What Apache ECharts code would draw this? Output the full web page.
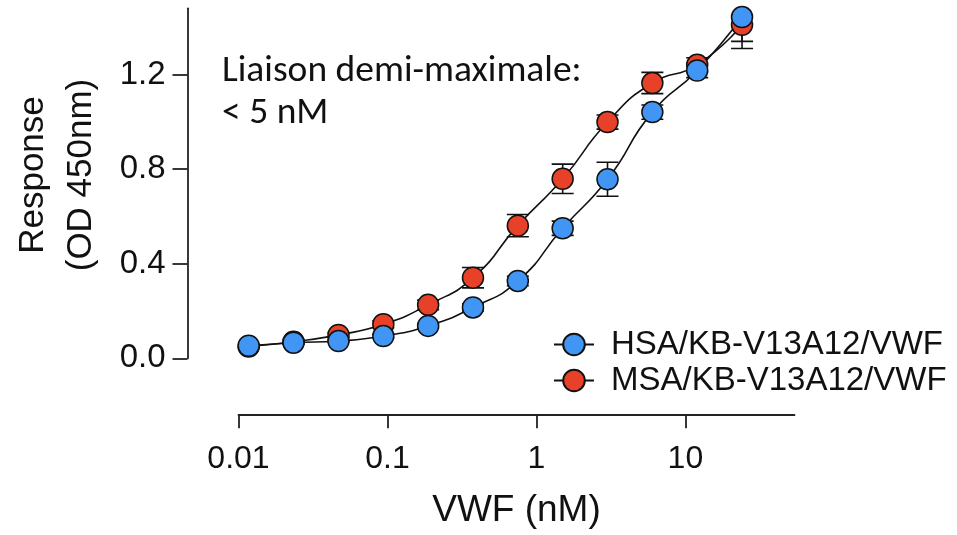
<!DOCTYPE html>
<html>
<head>
<meta charset="utf-8">
<script src="https://cdn.jsdelivr.net/npm/echarts@6/dist/echarts.min.js"></script>
<style>
  html, body { margin: 0; padding: 0; background: #fff; }
  #chart { width: 957px; height: 535px; }
</style>
</head>
<body>
<div id="chart"></div>
<script>
// VWF concentration (nM), two-fold dilution
const concentrations = [0.0117, 0.0234, 0.0469, 0.0938, 0.1875, 0.375, 0.75, 1.5, 3, 6, 12, 24];
const hsaValues = [0.053, 0.066, 0.073, 0.094, 0.137, 0.215, 0.327, 0.55, 0.757, 1.041, 1.217, 1.443];
const hsaErrors = [0.005, 0.005, 0.005, 0.008, 0.01, 0.015, 0.02, 0.03, 0.072, 0.03, 0.03, 0.103];
const msaValues = [0.05, 0.07, 0.099, 0.144, 0.226, 0.341, 0.561, 0.759, 0.999, 1.164, 1.241, 1.41];
const msaErrors = [0.005, 0.01, 0.01, 0.015, 0.02, 0.043, 0.047, 0.062, 0.03, 0.045, 0.03, 0.1];
const xTicks = [0.01, 0.1, 1, 10];
const yTicks = [0, 0.4, 0.8, 1.2];

const hsaName = 'HSA/KB-V13A12/VWF';
const msaName = 'MSA/KB-V13A12/VWF';
const blue = '#4196F5';
const red = '#E8412A';
const ink = '#111';
const font = 'Liberation Sans';

function points(values) {
    return concentrations.map((c, i) => [c, values[i]]);
}

function withErrors(values, errors) {
    return concentrations.map((c, i) => [c, values[i], errors[i]]);
}

function renderError(params, api) {
    const x = api.value(0);
    const y = api.value(1);
    const e = api.value(2);
    const hi = api.coord([x, y + e]);
    const lo = api.coord([x, y - e]);
    const w = 11;
    const style = { stroke: ink, lineWidth: 1.6 };
    return {
        type: 'group',
        children: [
            { type: 'line', shape: { x1: hi[0], y1: hi[1], x2: lo[0], y2: lo[1] }, style: style },
            { type: 'line', shape: { x1: hi[0] - w, y1: hi[1], x2: hi[0] + w, y2: hi[1] }, style: style },
            { type: 'line', shape: { x1: lo[0] - w, y1: lo[1], x2: lo[0] + w, y2: lo[1] }, style: style }
        ]
    };
}

function curve(name, values, color) {
    return {
        name: name,
        type: 'line',
        data: points(values),
        smooth: 0.55,
        symbol: 'circle',
        symbolSize: 21,
        z: 3,
        lineStyle: { color: ink, width: 1.6 },
        itemStyle: { color: color, borderColor: ink, borderWidth: 1.5 }
    };
}

function errorSeries(values, errors) {
    return {
        type: 'custom',
        data: withErrors(values, errors),
        renderItem: renderError,
        clip: true,
        z: 1,
        silent: true
    };
}

const chart = echarts.init(document.getElementById('chart'));

chart.setOption({
    animation: false,
    backgroundColor: '#fff',
    grid: { left: 238.5, right: 162.5, top: 8.3, bottom: 176.7 },
    xAxis: {
        type: 'log',
        logBase: 10,
        min: 0.01,
        max: 54,
        offset: 56,
        axisLine: { show: true, onZero: false, lineStyle: { color: '#222', width: 1.8 } },
        axisTick: { show: true, length: 14, customValues: xTicks, lineStyle: { color: '#222', width: 1.8 } },
        minorTick: { show: false },
        splitLine: { show: false },
        axisLabel: {
            customValues: xTicks,
            margin: 29,
            color: ink,
            fontFamily: font,
            fontSize: 32,
            formatter: v => String(+Number(v).toPrecision(6))
        },
        name: 'VWF (nM)',
        nameLocation: 'middle',
        nameGap: 78,
        nameTextStyle: { color: ink, fontFamily: font, fontSize: 37 }
    },
    yAxis: {
        type: 'value',
        min: 0,
        max: 1.48,
        offset: 51,
        axisLine: { show: true, onZero: false, lineStyle: { color: '#222', width: 1.8 } },
        axisTick: { show: true, length: 15, customValues: yTicks, lineStyle: { color: '#222', width: 1.8 } },
        splitLine: { show: false },
        axisLabel: {
            customValues: yTicks,
            margin: 22,
            color: ink,
            fontFamily: font,
            fontSize: 33,
            formatter: v => Number(v).toFixed(1)
        }
    },
    legend: {
        orient: 'vertical',
        left: 553,
        top: 328,
        itemWidth: 40,
        itemHeight: 27,
        itemGap: 3,
        padding: 0,
        data: [hsaName, msaName],
        textStyle: { color: ink, fontFamily: font, fontSize: 33, padding: [0, 0, 0, 12] }
    },
    graphic: [
        {
            type: 'text',
            x: 57,
            y: 175,
            rotation: Math.PI / 2,
            style: {
                text: 'Response\n(OD 450nm)',
                align: 'center',
                verticalAlign: 'middle',
                font: '35px "Liberation Sans"',
                lineHeight: 48,
                fill: ink
            }
        },
        {
            type: 'text',
            left: 222,
            top: 51,
            style: {
                text: 'Liaison demi-maximale:\n< 5 nM',
                font: '37.5px Carlito, Lato, sans-serif',
                lineHeight: 42,
                fill: ink
            }
        }
    ],
    series: [
        errorSeries(msaValues, msaErrors),
        errorSeries(hsaValues, hsaErrors),
        curve(msaName, msaValues, red),
        curve(hsaName, hsaValues, blue)
    ]
});
</script>
</body>
</html>
